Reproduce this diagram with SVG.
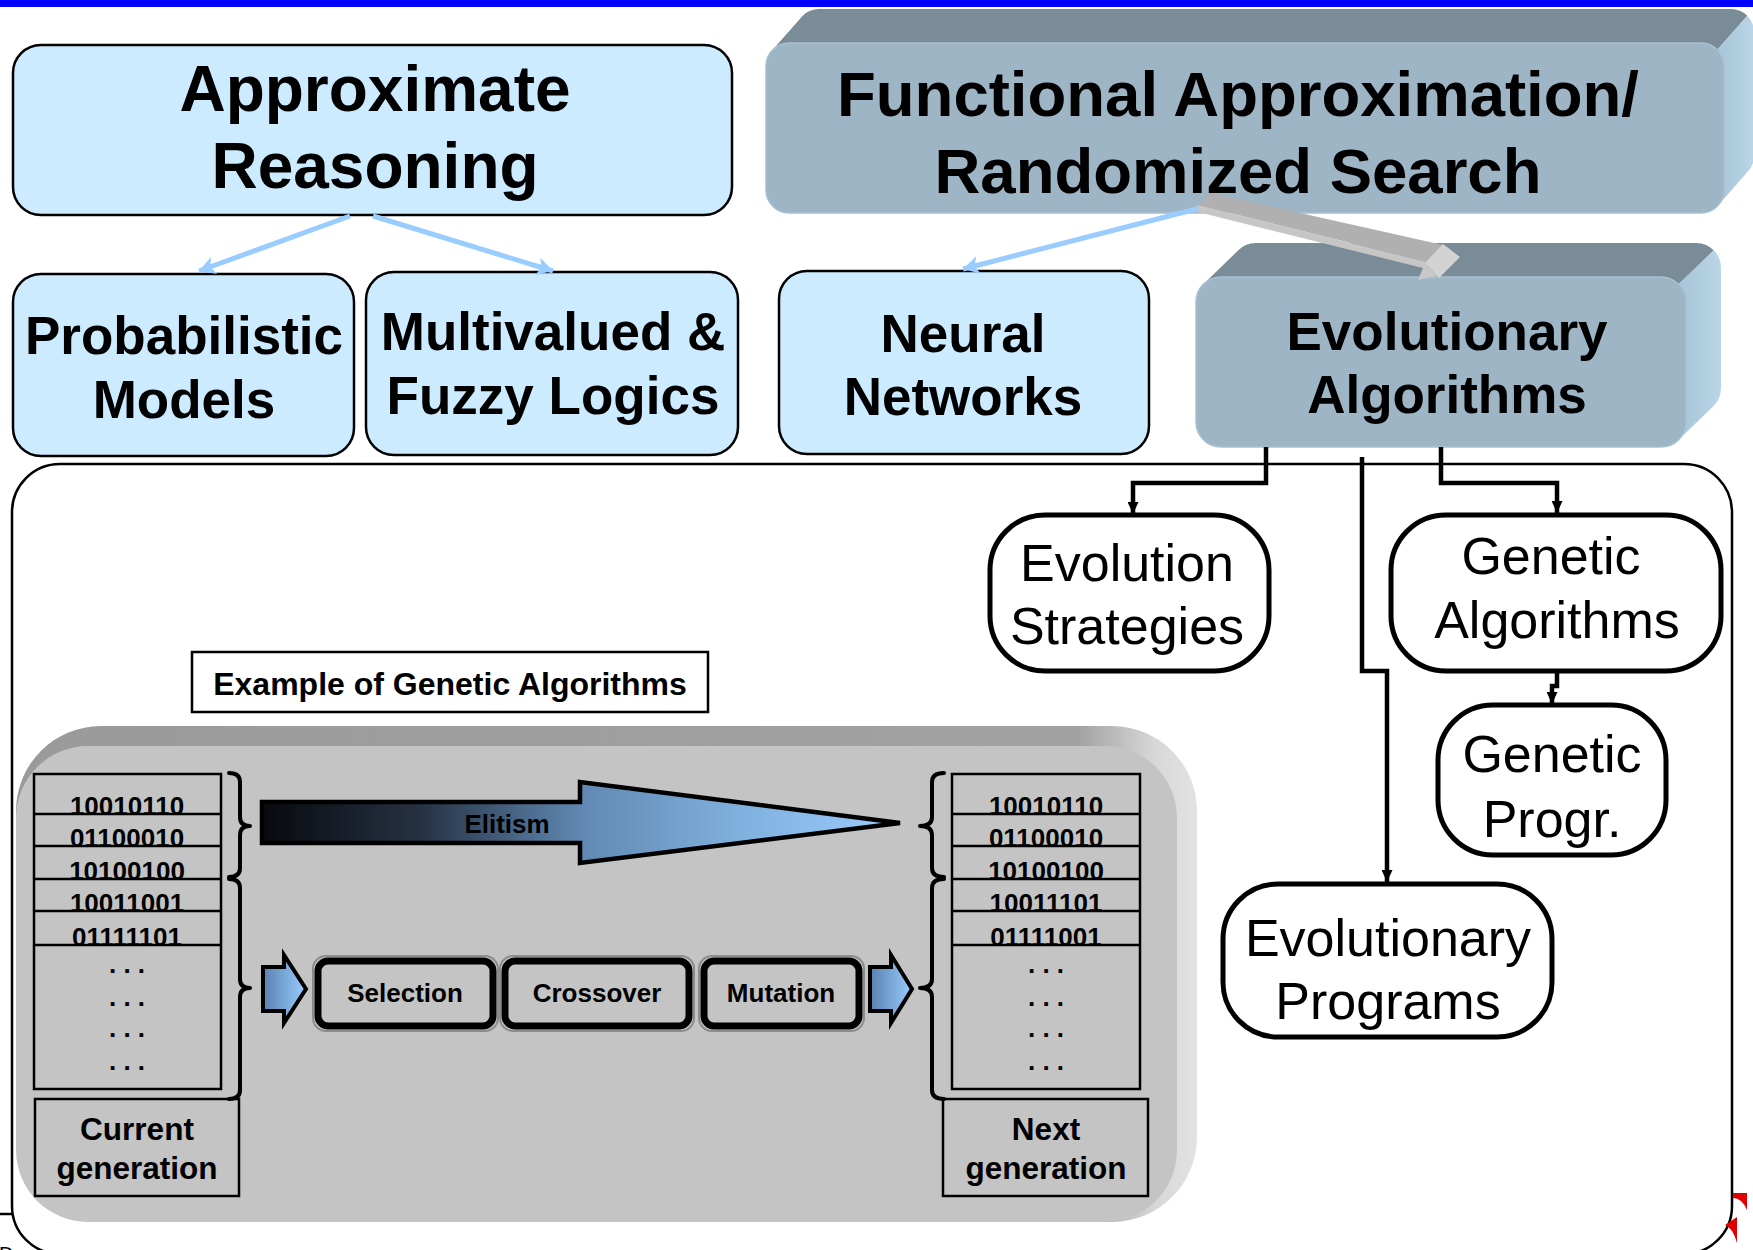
<svg xmlns="http://www.w3.org/2000/svg" width="1753" height="1250" viewBox="0 0 1753 1250">
  <defs>
    <style>
      text { font-family: "Liberation Sans", Arial, sans-serif; fill: #000; text-anchor: middle; }
      .b64 { font-size: 64px; font-weight: bold; }
      .b60 { font-size: 63.5px; font-weight: bold; }
      .b53 { font-size: 53px; font-weight: bold; }
      .r52 { font-size: 52px; }
      .b31 { font-size: 31.5px; font-weight: bold; }
      .b32 { font-size: 32px; font-weight: bold; }
      .b26 { font-size: 26px; font-weight: bold; }
      .lb { fill: #CCEBFF; stroke: #000; stroke-width: 2.5; }
      .wn { fill: #FFFFFF; stroke: #000; stroke-width: 5; }
      .front { fill: #9DB5C5; stroke: #A8C1D1; stroke-width: 1.5; }
      .topf { fill: #7A8C98; }
      .side { fill: url(#sideGrad); }
      .cell { fill: none; stroke: #000; stroke-width: 2.5; }
      .brace { fill: none; stroke: #000; stroke-width: 4; stroke-linejoin: round; stroke-linecap: round; }
      .op { fill: #C4C4C4; stroke: #000; stroke-width: 7; }
      .opshadow { fill: none; stroke: #8C8C8C; stroke-width: 2; }
      .blk { fill: none; stroke: #000; stroke-width: 4.5; }
      .blu { fill: none; stroke: #99CCFF; stroke-width: 5; }
      .small-arrow { fill: url(#smallGrad); stroke: #000; stroke-width: 4; stroke-linejoin: miter; }
    </style>
    <linearGradient id="sideGrad" x1="0" y1="0" x2="1" y2="0">
      <stop offset="0" stop-color="#A6C4D7"/>
      <stop offset="1" stop-color="#BAD6E8"/>
    </linearGradient>
    <linearGradient id="panelGrad" x1="0" y1="0" x2="1" y2="0">
      <stop offset="0" stop-color="#9A9A9A"/>
      <stop offset="0.9" stop-color="#A2A2A2"/>
      <stop offset="0.965" stop-color="#D8D8D8"/>
      <stop offset="1" stop-color="#E2E2E2"/>
    </linearGradient>
    <linearGradient id="elitGrad" gradientUnits="userSpaceOnUse" x1="262" y1="0" x2="900" y2="0">
      <stop offset="0" stop-color="#080A0E"/>
      <stop offset="0.25" stop-color="#263243"/>
      <stop offset="0.5" stop-color="#6088B3"/>
      <stop offset="0.75" stop-color="#80B0DD"/>
      <stop offset="1" stop-color="#99CCFF"/>
    </linearGradient>
    <linearGradient id="smallGrad" x1="0" y1="0" x2="1" y2="0">
      <stop offset="0" stop-color="#5A80B0"/>
      <stop offset="1" stop-color="#99CCFF"/>
    </linearGradient>
    <marker id="arrBlack" markerUnits="userSpaceOnUse" markerWidth="12" markerHeight="11" refX="12" refY="5.5" orient="auto">
      <path d="M0,0 L12,5.5 L0,11 z" fill="#000"/>
    </marker>
    <marker id="arrBlue" markerUnits="userSpaceOnUse" markerWidth="16" markerHeight="18" refX="16" refY="9" orient="auto">
      <path d="M0,0 L16,9 L0,18 L4,9 z" fill="#99CCFF"/>
    </marker>
  </defs>

  <!-- top band -->
  <rect x="0" y="0" width="1753" height="7" fill="#0000FF"/>

  <!-- large frame around the evolutionary section -->
  <rect x="12" y="464" width="1720" height="790" rx="48" fill="#FFFFFF" stroke="#000" stroke-width="2.5"/>
  <line x1="0" y1="1214" x2="12" y2="1214" stroke="#000" stroke-width="2.5"/>
  <text x="-1" y="1261" style="font-size:20px;text-anchor:start">Dr</text>
  <path d="M1733,1193 L1747,1193 L1747,1210 Q1742,1198 1733,1198 Z" fill="#E00000"/>
  <path d="M1737,1217 L1737,1243 Q1733,1228 1725,1225 Z" fill="#E00000"/>

  <!-- top level nodes -->
  <g id="approx-reasoning">
    <rect class="lb" x="13" y="45" width="719" height="170" rx="28"/>
    <text class="b64" x="375" y="111">Approximate</text>
    <text class="b64" x="375" y="188">Reasoning</text>
  </g>

  <g id="functional-approx">
    <path class="topf" d="M772.7,49.7 L802.7,15.7 A23,23 0 0 1 819,9 L1731,9 A23,23 0 0 1 1747.3,15.7 L1717.3,49.7 Z"/>
    <path class="side" d="M1717.3,49.7 L1747.3,15.7 A23,23 0 0 1 1754,32 L1754,156 A23,23 0 0 1 1747.3,172.3 L1717.3,206.3 Z"/>
    <rect class="front" x="766" y="43" width="958" height="170" rx="23"/>
    <text class="b60" x="1238" y="116">Functional Approximation/</text>
    <text class="b60" x="1238" y="193">Randomized Search</text>
  </g>

  <g id="probabilistic">
    <rect class="lb" x="13" y="274" width="341" height="182" rx="28"/>
    <text class="b53" x="184" y="354">Probabilistic</text>
    <text class="b53" x="184" y="418">Models</text>
  </g>

  <g id="multivalued">
    <rect class="lb" x="366" y="272" width="372" height="183" rx="28"/>
    <text class="b53" x="553" y="350">Multivalued &amp;</text>
    <text class="b53" x="553" y="414">Fuzzy Logics</text>
  </g>

  <g id="neural">
    <rect class="lb" x="779" y="271" width="370" height="183" rx="28"/>
    <text class="b53" x="963" y="352">Neural</text>
    <text class="b53" x="963" y="415">Networks</text>
  </g>

  <g id="evolutionary-algorithms">
    <path class="topf" d="M1203.3,284.3 L1238.3,250.3 A25,25 0 0 1 1256,243 L1696,243 A25,25 0 0 1 1713.7,250.3 L1678.7,284.3 Z"/>
    <path class="side" d="M1678.7,284.3 L1713.7,250.3 A25,25 0 0 1 1721,268 L1721,388 A25,25 0 0 1 1713.7,405.7 L1678.7,439.7 Z"/>
    <rect class="front" x="1196" y="277" width="490" height="170" rx="25"/>
    <text class="b53" x="1447" y="350">Evolutionary</text>
    <text class="b53" x="1447" y="413">Algorithms</text>
  </g>

  <!-- evolutionary algorithm families -->
  <g id="evolution-strategies">
    <rect class="wn" x="990" y="515" width="279" height="156" rx="55"/>
    <text class="r52" x="1127" y="581">Evolution</text>
    <text class="r52" x="1127" y="644">Strategies</text>
  </g>

  <g id="genetic-algorithms">
    <rect class="wn" x="1391" y="515" width="330" height="156" rx="55"/>
    <text class="r52" x="1551" y="574">Genetic</text>
    <text class="r52" x="1557" y="638">Algorithms</text>
  </g>

  <g id="genetic-programming">
    <rect class="wn" x="1438" y="705" width="228" height="150" rx="55"/>
    <text class="r52" x="1552" y="772">Genetic</text>
    <text class="r52" x="1552" y="837">Progr.</text>
  </g>

  <g id="evolutionary-programs">
    <rect class="wn" x="1223" y="884" width="329" height="153" rx="55"/>
    <text class="r52" x="1388" y="956">Evolutionary</text>
    <text class="r52" x="1388" y="1019">Programs</text>
  </g>

  <!-- genetic algorithm example -->
  <g id="ga-title">
    <rect x="192" y="652" width="516" height="60" fill="#FFFFFF" stroke="#000" stroke-width="2.5"/>
    <text class="b32" x="450" y="695">Example of Genetic Algorithms</text>
  </g>

  <g id="ga-panel">
    <rect x="16" y="726" width="1181" height="496" rx="85" fill="url(#panelGrad)"/>
    <rect x="16" y="746" width="1161" height="476" rx="72" fill="#C4C4C4"/>
  </g>

  <g id="current-population">
    <rect class="cell" x="34" y="774" width="187" height="315"/>
    <line class="cell" x1="34" y1="814" x2="221" y2="814"/>
    <line class="cell" x1="34" y1="846" x2="221" y2="846"/>
    <line class="cell" x1="34" y1="879" x2="221" y2="879"/>
    <line class="cell" x1="34" y1="911" x2="221" y2="911"/>
    <line class="cell" x1="34" y1="945" x2="221" y2="945"/>
    <text class="b26" x="127" y="815">10010110</text>
    <text class="b26" x="127" y="847">01100010</text>
    <text class="b26" x="127" y="880">10100100</text>
    <text class="b26" x="127" y="912">10011001</text>
    <text class="b26" x="127" y="946">01111101</text>
    <text class="b26" x="127" y="973">. . .</text>
    <text class="b26" x="127" y="1006">. . .</text>
    <text class="b26" x="127" y="1037">. . .</text>
    <text class="b26" x="127" y="1070">. . .</text>
  </g>

  <g id="current-label">
    <rect class="cell" x="35" y="1099" width="204" height="97"/>
    <text class="b31" x="137" y="1140">Current</text>
    <text class="b31" x="137" y="1179">generation</text>
  </g>

  <g id="next-population">
    <rect class="cell" x="952" y="774" width="188" height="315"/>
    <line class="cell" x1="952" y1="814" x2="1140" y2="814"/>
    <line class="cell" x1="952" y1="846" x2="1140" y2="846"/>
    <line class="cell" x1="952" y1="879" x2="1140" y2="879"/>
    <line class="cell" x1="952" y1="911" x2="1140" y2="911"/>
    <line class="cell" x1="952" y1="945" x2="1140" y2="945"/>
    <text class="b26" x="1046" y="815">10010110</text>
    <text class="b26" x="1046" y="847">01100010</text>
    <text class="b26" x="1046" y="880">10100100</text>
    <text class="b26" x="1046" y="912">10011101</text>
    <text class="b26" x="1046" y="946">01111001</text>
    <text class="b26" x="1046" y="973">. . .</text>
    <text class="b26" x="1046" y="1006">. . .</text>
    <text class="b26" x="1046" y="1037">. . .</text>
    <text class="b26" x="1046" y="1070">. . .</text>
  </g>

  <g id="next-label">
    <rect class="cell" x="943" y="1099" width="205" height="97"/>
    <text class="b31" x="1046" y="1140">Next</text>
    <text class="b31" x="1046" y="1179">generation</text>
  </g>

  <g id="braces">
    <path class="brace" d="M229,773 Q240,773 240,782 L240,817 Q240,826 250,826 Q240,826 240,835 L240,868 Q240,877 229,877"/>
    <path class="brace" d="M229,879 Q240,879 240,888 L240,979 Q240,988 250,988 Q240,988 240,997 L240,1090 Q240,1099 229,1099"/>
    <path class="brace" d="M944,773 Q932,773 932,782 L932,817 Q932,826 920,826 Q932,826 932,835 L932,868 Q932,877 944,877"/>
    <path class="brace" d="M944,879 Q932,879 932,888 L932,979 Q932,988 920,988 Q932,988 932,997 L932,1090 Q932,1099 944,1099"/>
  </g>

  <g id="elitism">
    <polygon points="262,802 580,802 580,782 900,823 580,863 580,843 262,843" fill="url(#elitGrad)" stroke="#000" stroke-width="4.5"/>
    <text class="b26" x="507" y="833">Elitism</text>
  </g>

  <g id="operators">
    <polygon class="small-arrow" points="263,967 284,967 284,955 306,989 284,1023 284,1011 263,1011"/>
    <rect class="opshadow" x="313" y="956" width="185" height="75" rx="13"/>
    <rect class="op" x="318" y="961" width="175" height="65" rx="10"/>
    <text class="b26" x="405" y="1002">Selection</text>
    <rect class="opshadow" x="500" y="956" width="194" height="75" rx="13"/>
    <rect class="op" x="505" y="961" width="184" height="65" rx="10"/>
    <text class="b26" x="597" y="1002">Crossover</text>
    <rect class="opshadow" x="699" y="956" width="165" height="75" rx="13"/>
    <rect class="op" x="704" y="961" width="155" height="65" rx="10"/>
    <text class="b26" x="781" y="1002">Mutation</text>
    <polygon class="small-arrow" points="870,967 891,967 891,955 912,989 891,1023 891,1011 870,1011"/>
  </g>

  <!-- connectors -->
  <g id="connectors">
    <line class="blu" x1="350" y1="216" x2="199" y2="271" marker-end="url(#arrBlue)"/>
    <line class="blu" x1="373" y1="216" x2="553" y2="271" marker-end="url(#arrBlue)"/>
    <line class="blu" x1="1200" y1="208" x2="963" y2="269" marker-end="url(#arrBlue)"/>

    <path class="blk" d="M1266,447 V483 H1133 V514" marker-end="url(#arrBlack)"/>
    <path class="blk" d="M1362,457 V671 H1387 V882" marker-end="url(#arrBlack)"/>
    <path class="blk" d="M1441,447 V483 H1557 V513" marker-end="url(#arrBlack)"/>
    <path class="blk" d="M1557,671 V686 H1552 V704" marker-end="url(#arrBlack)"/>

    <g id="gray-3d-arrow">
      <polygon points="1198,205 1211,193 1443,245 1427,262" fill="#B0B0B0"/>
      <polygon points="1198,205 1427,262 1427,269 1198,212" fill="#C6C6C6"/>
      <polygon points="1425,263 1443,244 1460,257 1439,278" fill="#D3D3D3"/>
      <polygon points="1418,280 1425,263 1437,276" fill="#C8C8C8"/>
    </g>
  </g>
</svg>
